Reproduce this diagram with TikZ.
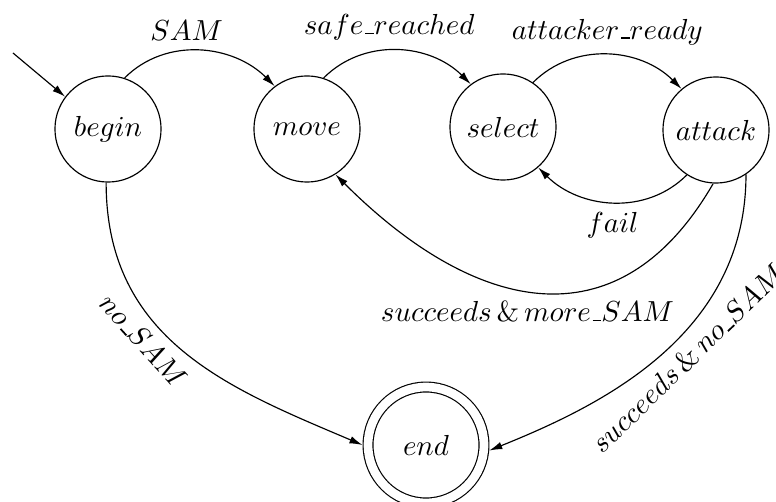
\documentclass[tikz,border=0pt]{standalone}
\usetikzlibrary{arrows.meta}
\newcommand{\uscore}{\kern.06em\vbox{\hrule width.3em height.6pt}}
\begin{document}
\begin{tikzpicture}[x=0.345pt, y=0.345pt, >={Latex[length=4.5pt,width=2.6pt]}, main node/.style={circle,draw,minimum size=36.6pt,inner sep=0pt}, end node/.style={main node,minimum size=40pt,double,double distance=3pt,outer sep=1.9pt}]
\useasboundingbox (0,0) rectangle (776,501);
\node [main node](v0) at (108,372) {$begin$};
\node [main node](v1) at (307,372) {$move$};
\node [main node](v2) at (503,374) {$select$};
\node [main node](v3) at (716,371) {$attack$};
\node [end node](v4) at (426,56) {$end$};
\coordinate (s0) at (13,448);
\draw [->] (s0) -- (v0.143);
\draw [->] (v0.72) to [out=45,in=135] node [above,pos=0.42] {$SAM$} (v1.127);
\draw [->] (v1.72) to [out=45,in=135] node [above,pos=0.45] {$safe\uscore reached$} (v2.127);
\draw [->] (v2.56) to [out=45,in=135] node [above] {$attacker\uscore ready$} (v3.130);
\draw [->] (v3.237) to [out=225,in=-45] node [below] {$fail$} (v2.311);
\draw [->] (v3.267) to [out=240,in=-45,looseness=1.3] node [below,pos=0.53] {$succeeds\,\&\,more\uscore SAM$} (v1.302);
\draw [->] (v3.304) to [out=-90,in=22,out looseness=1.1,in looseness=0.8] node [below,sloped,pos=0.45] {$succeeds\,\&\,no\uscore SAM$} (v4.-5);
\draw [->] (v0.268) to [out=-90,in=157,out looseness=1.1] node [below,sloped,pos=0.4] {$no\uscore SAM$} (v4.180);
\end{tikzpicture}
\end{document}
